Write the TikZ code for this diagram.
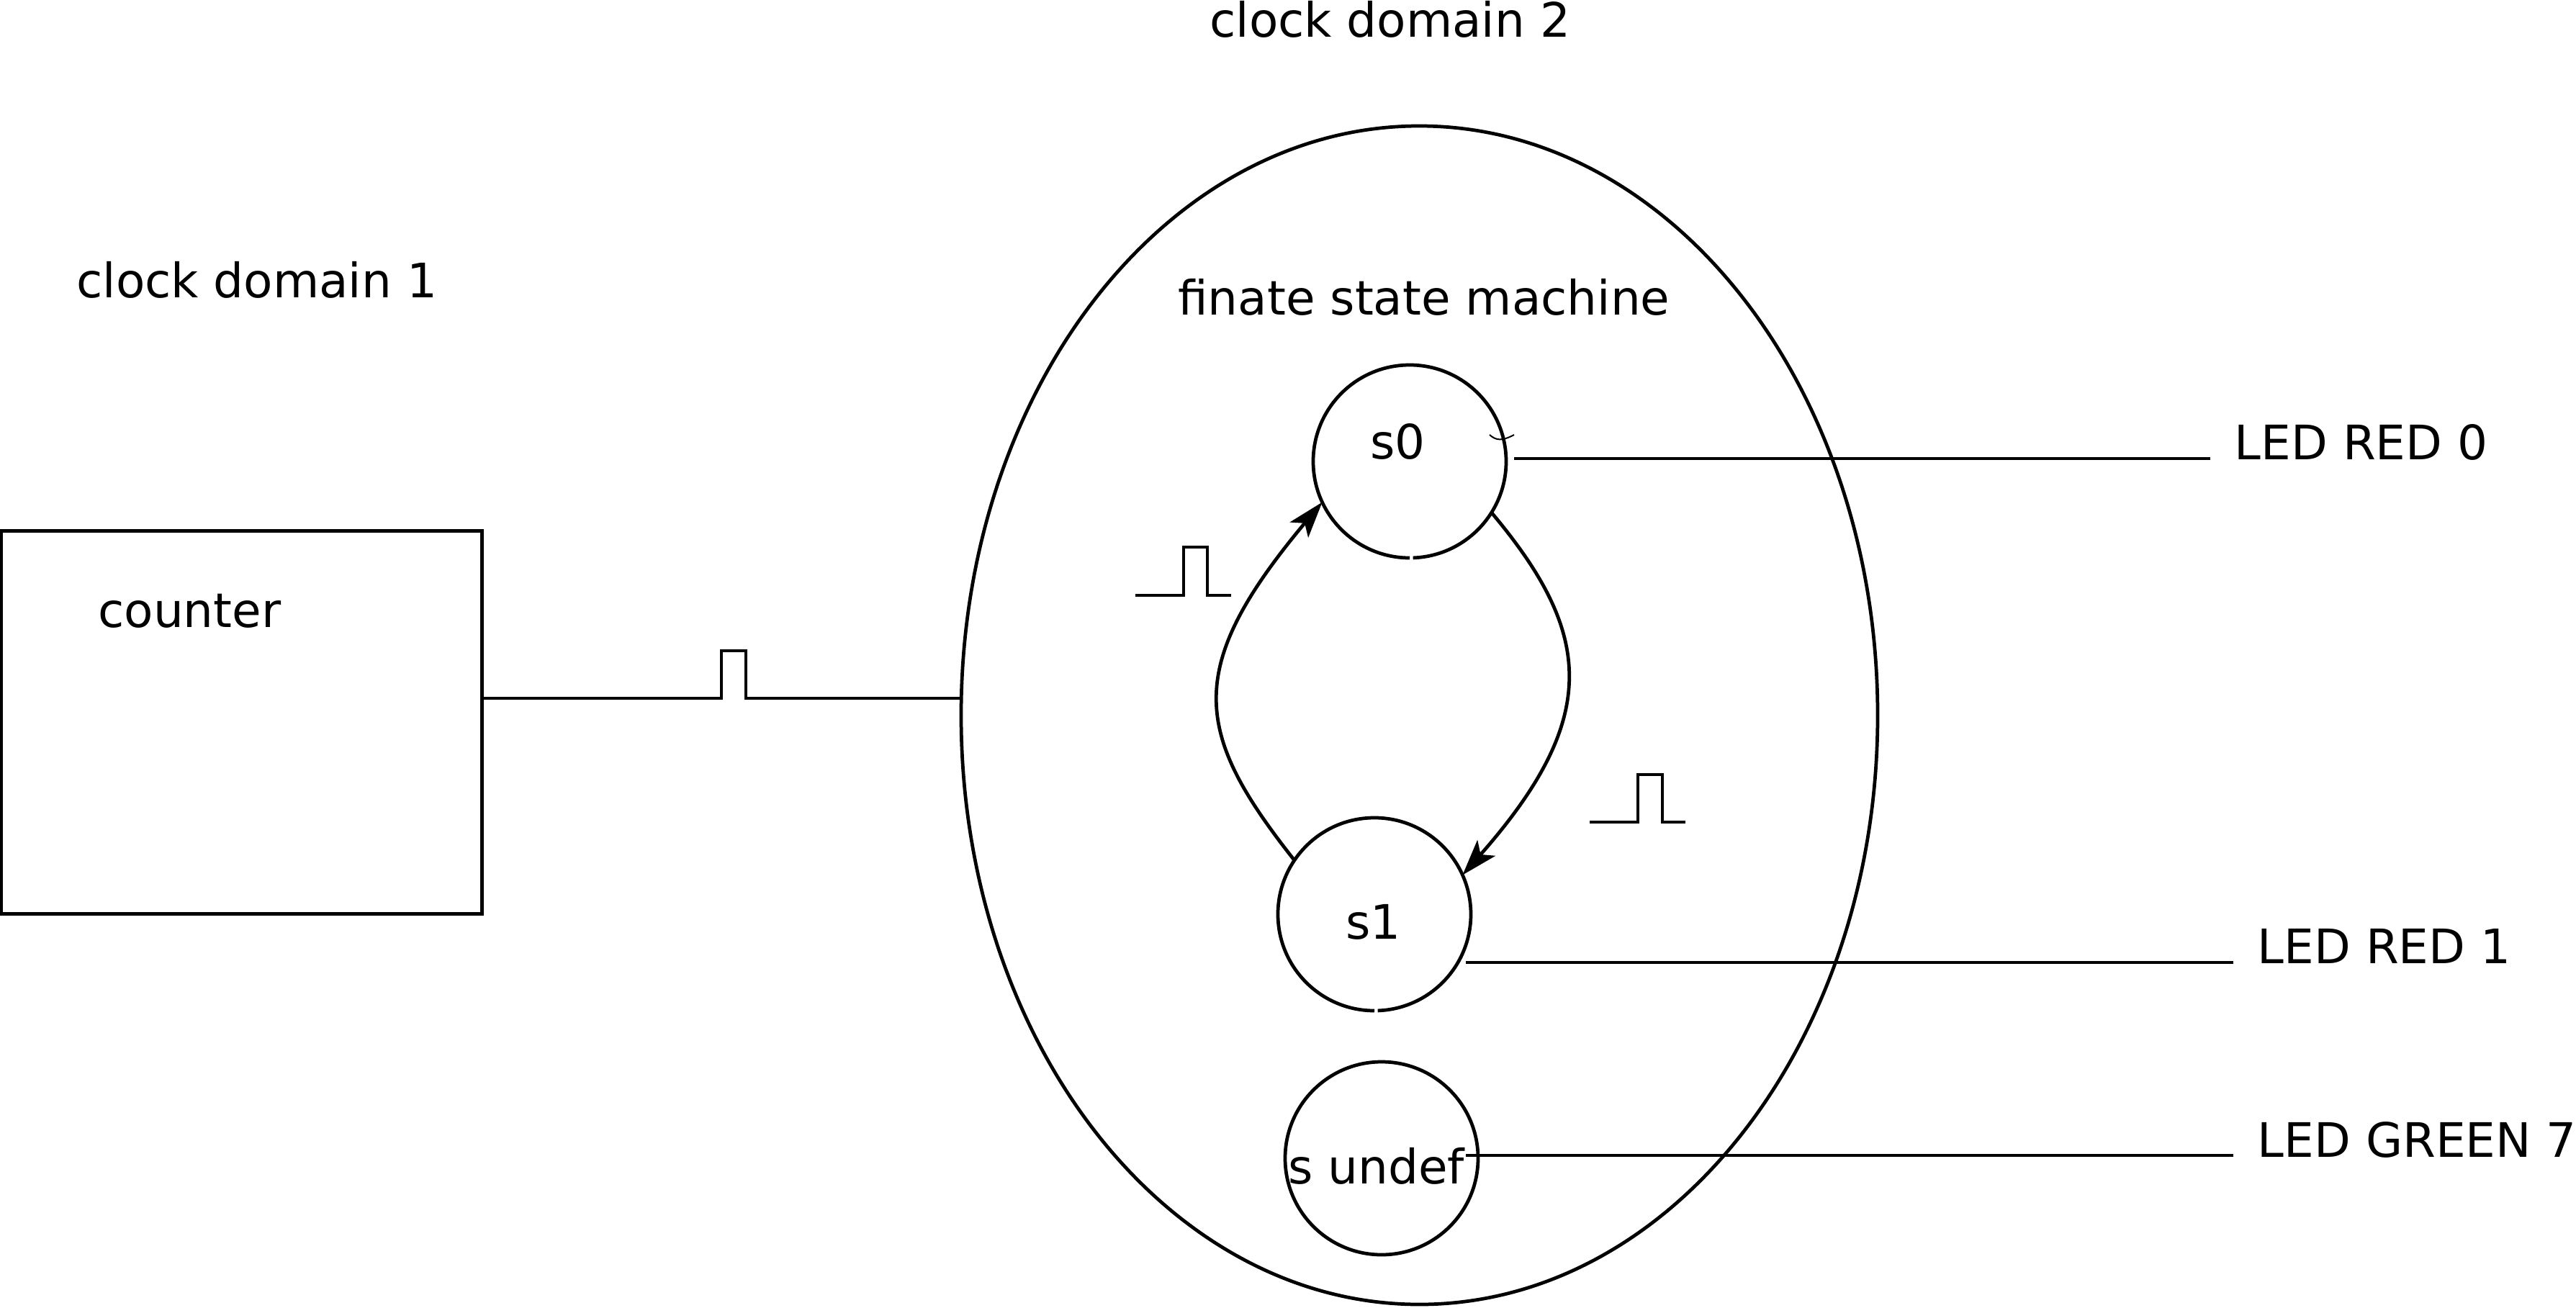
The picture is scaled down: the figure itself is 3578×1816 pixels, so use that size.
\documentclass[tikz,border=0pt]{standalone}
\usepackage{fontspec}
\setmainfont{DejaVu Sans}
\usetikzlibrary{shapes.geometric,arrows.meta}
\begin{document}
\begin{tikzpicture}[x=0.2pt,y=-0.2pt,line width=0.95pt,
  lbl/.style={inner sep=0,anchor=base west,font=\fontsize{13.2}{15}\selectfont},
  state/.style={circle,minimum size=53.6pt,inner sep=0,outer sep=0},
  arr/.style={-{Stealth[length=10pt,width=6.6pt,inset=2.4pt]}}]
\useasboundingbox (0,0) rectangle (3578,1816);

% titles and labels
\node[lbl] (cd1) at (104,413) {clock domain 1};
\node[lbl] (cd2) at (1678,51) {clock domain 2};
\node[lbl] (fsmlbl) at (1634,437) {finate state machine};
\node[lbl] (cntlbl) at (134,871) {counter};
\node[lbl] (led0) at (3101.5,638) {LED RED 0};
\node[lbl] (led1) at (3133.5,1338) {LED RED 1};
\node[lbl] (led7) at (3133.5,1607) {LED GREEN 7};

% counter box and fsm ellipse
\node[draw,line width=1pt,minimum width=133.4pt,minimum height=106.4pt,inner sep=0,outer sep=0] (counter) at (335.5,1003) {};
\node[ellipse,draw,minimum width=254.6pt,minimum height=327.4pt,inner sep=0,outer sep=0] (fsm) at (1971.5,993.5) {};

% states
\node[state] (s0) at (1958,641) {};
\node[state] (s1) at (1909,1270) {};
\node[state,draw] (su) at (1919,1609) {};
\draw (s0.-88) arc[start angle=-88,end angle=270,radius=26.8pt];
\draw (s1.-88) arc[start angle=-88,end angle=270,radius=26.8pt];
\node[lbl] (s0lbl) at (1901,637) {s0};
\node[lbl] (s1lbl) at (1867,1304) {s1};
\node[lbl] (sulbl) at (1787,1644) {s undef};

% small mark near s0
\draw[line width=0.4pt] (2069,604) .. controls (2078,612) and (2086,613) .. (2103,604);

% signal from counter
\coordinate (sig) at (0,970);
\draw (counter.east |- sig) -- (1002,970) -- (1002,904) -- (1036,904) -- (1036,970) -- (fsm.west |- sig);

% transitions
\draw[arr] (s1.146) .. controls (1658,1018) and (1643,929) .. (s0.205);
\draw[arr] (s0.-32) .. controls (2212,879) and (2225,996) .. (s1.24);

% pulse symbols
\draw (1577,827) -- (1644,827) -- (1644,760) -- (1677,760) -- (1677,827) -- (1710,827);
\draw (2208,1142) -- (2275,1142) -- (2275,1076) -- (2309,1076) -- (2309,1142) -- (2341,1142);

% LED outputs
\coordinate (o0) at (2103,637);
\coordinate (o1) at (2036,1337);
\coordinate (o7) at (2036,1605);
\coordinate (e0) at ([xshift=-6.3pt]led0.base west);
\coordinate (e1) at ([xshift=-6.3pt]led1.base west);
\coordinate (e7) at ([xshift=-6.3pt]led7.base west);
\draw (o0) -- (o0 -| e0);
\draw (o1) -- (o1 -| e1);
\draw (o7) -- (o7 -| e7);
\end{tikzpicture}
\end{document}
